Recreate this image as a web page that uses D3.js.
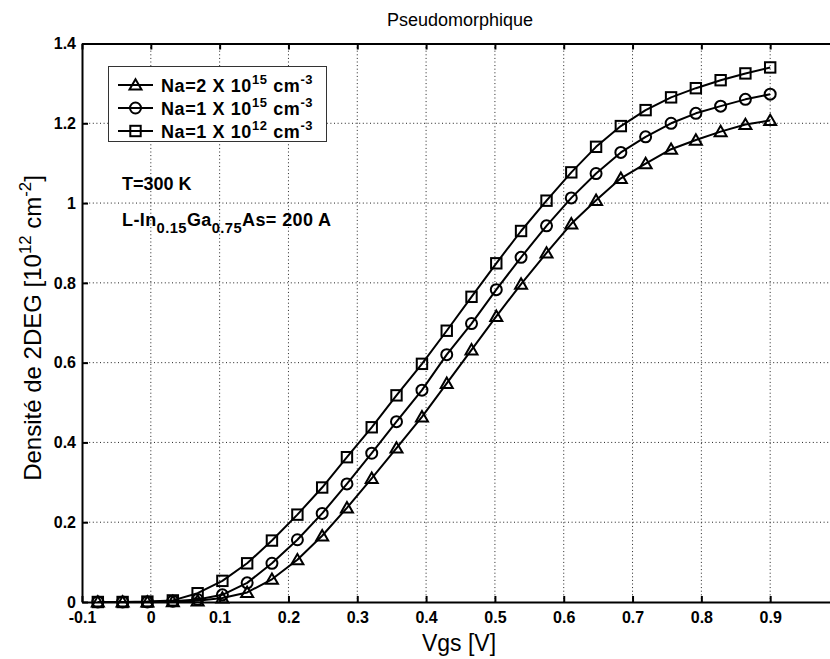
<!DOCTYPE html>
<html>
<head>
<meta charset="utf-8">
<script src="https://cdn.jsdelivr.net/npm/d3@7"></script>
<style>
  html, body { margin: 0; padding: 0; background: #fff; }
  svg { display: block; }
</style>
</head>
<body>
<svg id="chart" width="830" height="659"></svg>
<script>
// Gate voltage samples (V)
const vgs = [-0.077, -0.041, -0.005, 0.032, 0.068, 0.104, 0.140, 0.176, 0.213, 0.249,
             0.285, 0.321, 0.357, 0.394, 0.430, 0.466, 0.502, 0.538, 0.575, 0.611,
             0.647, 0.683, 0.719, 0.756, 0.792, 0.828, 0.864, 0.900];

// 2DEG sheet density (10^12 cm^-2) for each acceptor doping
const nsNa2e15 = [0, 0, 0, 0.001, 0.003, 0.010, 0.024, 0.057, 0.106, 0.166,
                  0.236, 0.310, 0.386, 0.464, 0.548, 0.632, 0.716, 0.797, 0.875, 0.948,
                  1.007, 1.062, 1.099, 1.135, 1.158, 1.179, 1.197, 1.207];
const nsNa1e15 = [0, 0, 0, 0.002, 0.006, 0.018, 0.048, 0.097, 0.156, 0.222,
                  0.296, 0.373, 0.452, 0.531, 0.620, 0.698, 0.783, 0.864, 0.943, 1.013,
                  1.074, 1.127, 1.166, 1.200, 1.225, 1.243, 1.260, 1.273];
const nsNa1e12 = [0, 0, 0.001, 0.004, 0.022, 0.053, 0.097, 0.154, 0.219, 0.287,
                  0.363, 0.438, 0.518, 0.597, 0.680, 0.765, 0.849, 0.930, 1.006, 1.077,
                  1.141, 1.193, 1.233, 1.265, 1.288, 1.308, 1.325, 1.340];

const xTicks = [-0.1, 0, 0.1, 0.2, 0.3, 0.4, 0.5, 0.6, 0.7, 0.8, 0.9];
const xTickLabels = ["-0.1", "0", "0.1", "0.2", "0.3", "0.4", "0.5", "0.6", "0.7", "0.8", "0.9"];
const yTicks = [0, 0.2, 0.4, 0.6, 0.8, 1.0, 1.2, 1.4];
const yTickLabels = ["0", "0.2", "0.4", "0.6", "0.8", "1", "1.2", "1.4"];

const seriesNames = [
  [{t: "Na=2 X 10"}, {t: "15", sup: true}, {t: " cm"}, {t: "-3", sup: true}],
  [{t: "Na=1 X 10"}, {t: "15", sup: true}, {t: " cm"}, {t: "-3", sup: true}],
  [{t: "Na=1 X 10"}, {t: "12", sup: true}, {t: " cm"}, {t: "-3", sup: true}]
];
const seriesMarkers = ["triangle", "circle", "square"];
const seriesValues = [nsNa2e15, nsNa1e15, nsNa1e12];

const svg = d3.select("#chart");
const FONT = "'Liberation Sans', Arial, Helvetica, sans-serif";

const plotL = 82, plotR = 839, plotT = 43.5, plotB = 602;
const x = d3.scaleLinear().domain([-0.1, 1.0]).range([plotL, plotR]);
const y = d3.scaleLinear().domain([0, 1.4]).range([plotB, plotT]);

// dotted grid
const grid = svg.append("g").attr("stroke", "#222").attr("stroke-width", 1)
  .attr("stroke-dasharray", "1,2.6");
grid.selectAll("line.v").data(xTicks.slice(1)).join("line").attr("class", "v")
  .attr("x1", d => x(d)).attr("x2", d => x(d)).attr("y1", plotT).attr("y2", plotB);
grid.selectAll("line.h").data(yTicks.slice(1, -1)).join("line").attr("class", "h")
  .attr("y1", d => y(d)).attr("y2", d => y(d)).attr("x1", plotL).attr("x2", plotR);

// axes with inward ticks
const axB = svg.append("g").attr("transform", `translate(0,${plotB})`)
  .call(d3.axisBottom(x).tickValues(xTicks).tickSizeInner(-6).tickSizeOuter(0)
    .tickFormat((d, i) => xTickLabels[i]));
const axT = svg.append("g").attr("transform", `translate(0,${plotT})`)
  .call(d3.axisTop(x).tickValues(xTicks).tickSizeInner(-6).tickSizeOuter(0).tickFormat(""));
const axL = svg.append("g").attr("transform", `translate(${plotL},0)`)
  .call(d3.axisLeft(y).tickValues(yTicks).tickSizeInner(-6).tickSizeOuter(0)
    .tickFormat((d, i) => yTickLabels[i]));
[axB, axT, axL].forEach(g => {
  g.select(".domain").attr("stroke", "#000").attr("stroke-width", 2);
  g.selectAll(".tick line").attr("stroke", "#000").attr("stroke-width", 2);
  g.selectAll(".tick text").attr("fill", "#000")
    .style("font-family", FONT).style("font-size", "16px").style("font-weight", "bold");
});
axB.selectAll(".tick text").attr("dy", "0.71em").attr("y", 10);
axL.selectAll(".tick text").attr("x", -6).attr("dy", "0.33em");

// marker shapes
function marker(g, type, cx, cy) {
  if (type === "square") {
    g.append("rect").attr("x", cx - 5.2).attr("y", cy - 5.2).attr("width", 10.4).attr("height", 10.4);
  } else if (type === "circle") {
    g.append("circle").attr("cx", cx).attr("cy", cy).attr("r", 5.5);
  } else {
    g.append("path").attr("d", `M${cx},${cy - 5.8}L${cx + 6},${cy + 4.6}L${cx - 6},${cy + 4.6}Z`);
  }
}

const line = d3.line().x((d, i) => x(vgs[i])).y(d => y(d));
seriesValues.forEach((vals, s) => {
  const g = svg.append("g").attr("fill", "none").attr("stroke", "#000").attr("stroke-width", 2);
  g.append("path").attr("d", line(vals)).attr("stroke-linejoin", "round");
  vals.forEach((v, i) => marker(g, seriesMarkers[s], x(vgs[i]), y(v)));
});

// rich text helper (superscripts / subscripts)
function rich(g, parts, px, py, size, weight, spacing, scriptScale) {
  const t = g.append("text").attr("x", px).attr("y", py)
    .style("font-family", FONT).style("font-size", size + "px").style("font-weight", weight)
    .style("letter-spacing", (spacing || 0) + "px")
    .attr("fill", "#000");
  const sc = scriptScale || 0.7;
  let shift = 0;
  parts.forEach(p => {
    const target = p.sup ? -0.42 * size : p.sub ? 0.4 * size : 0;
    t.append("tspan").text(p.t)
      .attr("dy", target - shift)
      .style("font-size", (p.sup || p.sub ? size * sc : size) + "px");
    shift = target;
  });
  return t;
}

// legend
const lg = svg.append("g");
lg.append("rect").attr("x", 108.5).attr("y", 66.5).attr("width", 218).attr("height", 75)
  .attr("fill", "#fff").attr("stroke", "#333").attr("stroke-width", 1);
seriesNames.forEach((parts, i) => {
  const ly = 85 + i * 23;
  const mg = lg.append("g").attr("fill", "none").attr("stroke", "#000").attr("stroke-width", 2);
  mg.append("line").attr("x1", 118).attr("x2", 153).attr("y1", ly).attr("y2", ly);
  marker(mg, seriesMarkers[i], 135.5, ly);
  rich(lg, parts, 161, ly + 6.5, 18, "bold", 0.6, 0.72);
});

// annotations
rich(svg, [{t: "T=300 K"}], 122, 190, 18, "bold", 0, 0.8);
rich(svg, [{t: "L-In"}, {t: "0.15", sub: true}, {t: "Ga"}, {t: "0.75", sub: true}, {t: "As= 200 A"}],
     122, 226, 18, "bold", 0.4, 0.82);

// title and axis labels
svg.append("text").attr("x", 460).attr("y", 26).attr("text-anchor", "middle")
  .style("font-family", FONT).style("font-size", "18px").text("Pseudomorphique");
svg.append("text").attr("x", 459).attr("y", 651).attr("text-anchor", "middle")
  .style("font-family", FONT).style("font-size", "23px").text("Vgs [V]");
const yl = svg.append("g").attr("transform", "translate(41,328) rotate(-90)");
const ylt = rich(yl, [{t: "Densité de 2DEG [10"}, {t: "12", sup: true}, {t: " cm"}, {t: "-2", sup: true}, {t: "]"}],
     0, 0, 24, "normal", 0, 0.7);
ylt.attr("text-anchor", "middle");
</script>
</body>
</html>
